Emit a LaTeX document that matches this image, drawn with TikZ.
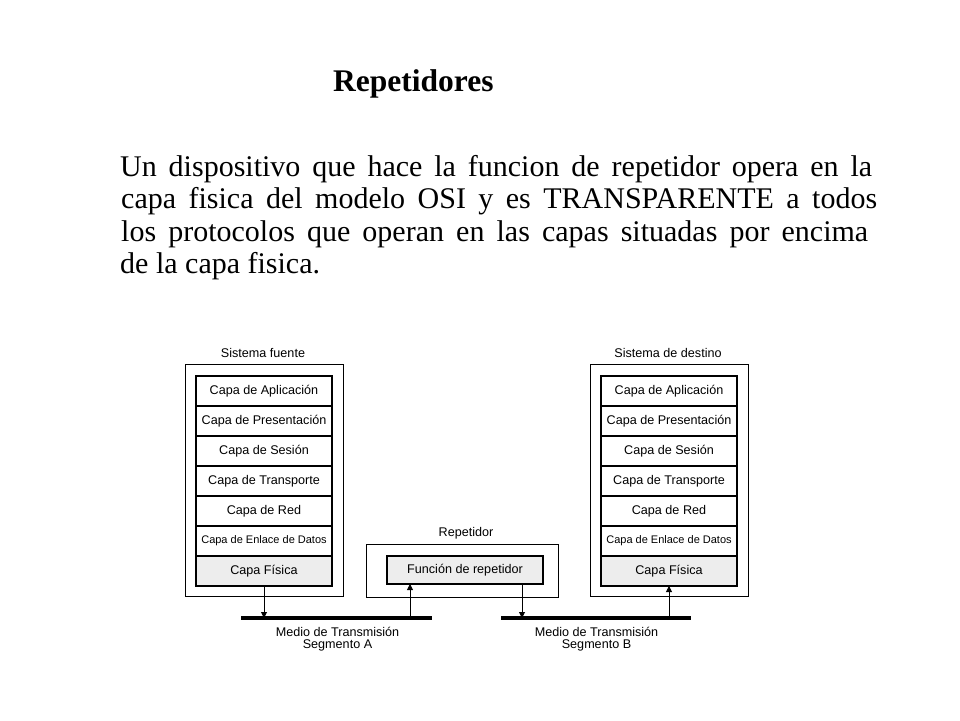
\documentclass[tikz,border=0pt]{standalone}
\usepackage{fontspec}
\setmainfont{Liberation Serif}
\newfontfamily\arial{Liberation Sans}
\usetikzlibrary{arrows.meta}
\begin{document}
\begin{tikzpicture}[x=1pt,y=-1pt,
 layer/.style={draw, line width=1.5pt, minimum width=136pt, minimum height=30pt, inner sep=0pt, outer sep=0pt, font=\arial\fontsize{12.6}{14}\selectfont, anchor=north west},
 phys/.style={layer, fill=black!7},
 outerbox/.style={draw, line width=0.9pt, inner sep=0pt, outer sep=0pt, anchor=north west},
 lbl/.style={font=\arial\fontsize{12.6}{12.5}\selectfont, align=center, inner sep=0pt},
 bus/.style={line width=3.5pt},
 arr/.style={line width=0.9pt, -{Triangle[width=6pt,length=6pt]}},
 body/.style={font=\fontsize{30}{32}\selectfont, inner sep=0pt, anchor=base west}]
\fill[white] (0,0) rectangle (960,720);
\useasboundingbox (0,0) rectangle (960,720);

% texts
\node[font=\bfseries\fontsize{31.5}{36}\selectfont, inner sep=0pt, anchor=base west] (title) at (333,91) {Repetidores};
\node[body] (t1) at (120,176) {\makebox[752pt][s]{Un dispositivo que hace la funcion de repetidor opera en la}};
\node[body] (t2) at (121,208.5) {\makebox[756pt][s]{capa fisica del modelo OSI y es TRANSPARENTE a todos}};
\node[body] (t3) at (121,241) {\makebox[747pt][s]{los protocolos que operan en las capas situadas por encima}};
\node[body] (t4) at (120,273.5) {de la capa fisica.};

% left system
\node[outerbox, minimum width=158pt, minimum height=232pt] (SF) at (185,364) {};
\node[lbl] (SFt) at (263,353) {Sistema fuente};
\node[layer] (L1) at (196,376) {Capa de Aplicación};
\node[layer] (L2) at (L1.south west) {Capa de Presentación};
\node[layer] (L3) at (L2.south west) {Capa de Sesión};
\node[layer] (L4) at (L3.south west) {Capa de Transporte};
\node[layer] (L5) at (L4.south west) {Capa de Red};
\node[layer, font=\arial\fontsize{11}{12}\selectfont] (L6) at (L5.south west) {Capa de Enlace de Datos};
\node[phys] (L7) at (L6.south west) {Capa Física};

% right system
\node[outerbox, minimum width=158pt, minimum height=232pt] (SD) at (590,364) {};
\node[lbl] (SDt) at (668,353) {Sistema de destino};
\node[layer] (R1) at (601,376) {Capa de Aplicación};
\node[layer] (R2) at (R1.south west) {Capa de Presentación};
\node[layer] (R3) at (R2.south west) {Capa de Sesión};
\node[layer] (R4) at (R3.south west) {Capa de Transporte};
\node[layer] (R5) at (R4.south west) {Capa de Red};
\node[layer, font=\arial\fontsize{11}{12}\selectfont] (R6) at (R5.south west) {Capa de Enlace de Datos};
\node[phys] (R7) at (R6.south west) {Capa Física};

% repeater
\node[outerbox, minimum width=192pt, minimum height=53pt] (RP) at (366,544) {};
\node[lbl] (RPt) at (466,533) {Repetidor};
\node[phys, minimum width=156pt, minimum height=28pt] (FN) at (387,556) {Función de repetidor};

% buses
\coordinate (A1) at (241,618);
\coordinate (A2) at (432,618);
\coordinate (B1) at (501,618);
\coordinate (B2) at (691,618);
\draw[bus] (A1) -- (A2);
\draw[bus] (B1) -- (B2);
\node[lbl] (SA) at (337.5,639) {Medio de Transmisión\\Segmento A};
\node[lbl] (SB) at (596.5,639) {Medio de Transmisión\\Segmento B};

% arrows
\coordinate (pa) at (410,618);
\coordinate (pb) at (522,618);
\draw[arr] (L7.south) -- (L7.south |- A1);
\draw[arr] (pa) -- (pa |- FN.south);
\draw[arr] (pb |- FN.south) -- (pb);
\draw[arr] (R7.south |- B1) -- (R7.south);
\end{tikzpicture}
\end{document}
